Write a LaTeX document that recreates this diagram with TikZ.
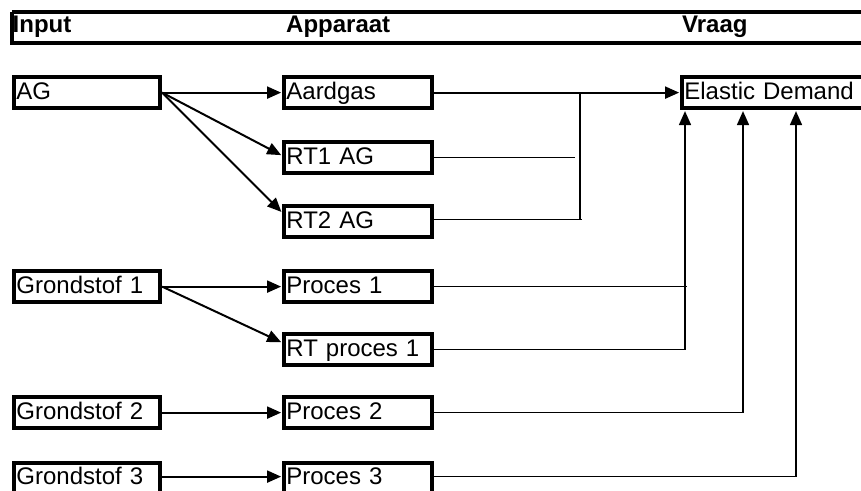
\documentclass[tikz,border=0pt]{standalone}
\usepackage{fontspec}
\setmainfont{Liberation Sans}
\usetikzlibrary{arrows.meta,shadows}
\begin{document}
\begin{tikzpicture}[x=1pt,y=-1pt,
  box/.style={draw, fill=white, line width=4.2pt, rectangle, anchor=north west,
    inner xsep=2.2pt, inner ysep=0pt, minimum height=30.8pt,
    text height=17pt, text depth=4pt, align=left,
    font=\fontsize{24}{24}\selectfont,
    drop shadow={shadow xshift=1.3pt, shadow yshift=-1.3pt, fill=black, opacity=1}},
  inbox/.style={box, text width=141.4pt},
  appbox/.style={box, text width=143.4pt},
  head/.style={anchor=base west, inner sep=0pt,
    font=\bfseries\fontsize{24}{24}\selectfont},
  link/.style={line width=1.6pt},
  arr/.style={line width=2pt, -{Triangle[length=14pt,width=12pt]}, shorten >=1pt},
  arrv/.style={line width=1.7pt, -{Triangle[length=14pt,width=12pt]}, shorten >=0pt}
]
\useasboundingbox (0,0) rectangle (861,490);
\fill[white] (0,0) rectangle (861,490);
\clip (0,0) rectangle (861,490);

% column header bar
\draw[line width=3.6pt] (11.8,11.8) -- (900,11.8);
\draw[line width=3.6pt] (11.8,11.8) -- (11.8,43);
\draw[line width=4.6pt] (10,43) -- (900,43);
\node[head] (hInput) at (12.5,32) {Input};
\node[head] (hApp) at (286,32) {Apparaat};
\node[head] (hVraag) at (682,32) {Vraag};

% input column
\node[inbox] (ag)  at (12.1,75.1)  {AG};
\node[inbox] (gs1) at (12.1,269.1) {Grondstof 1};
\node[inbox] (gs2) at (12.1,395.1) {Grondstof 2};
\node[inbox] (gs3) at (12.1,460.6) {Grondstof 3};

% apparaat column
\node[appbox] (aardgas) at (282.1,75.1)  {Aardgas};
\node[appbox] (rt1)     at (282.1,140.1) {RT1 AG};
\node[appbox] (rt2)     at (282.1,204.1) {RT2 AG};
\node[appbox] (proc1)   at (282.1,269.1) {Proces 1};
\node[appbox] (rtp1)    at (282.1,332.1) {RT proces 1};
\node[appbox] (proc2)   at (282.1,395.1) {Proces 2};
\node[appbox] (proc3)   at (282.1,460.6) {Proces 3};

% demand
\node[box, text width=250pt] (ed) at (680.1,75.1) {Elastic Demand};

% input -> apparaat
\draw[arr] (ag.east) -- (aardgas.west);
\draw[arr] (ag.east) -- ([yshift=2pt]rt1.west);
\draw[arr] (ag.east) -- ([yshift=9pt]rt2.west);
\draw[arr] (gs1.east) -- (proc1.west);
\draw[arr] (gs1.east) -- ([yshift=7pt]rtp1.west);
\draw[arr] (gs2.east) -- (proc2.west);
\draw[arr] ([yshift=1.5pt]gs3.east) -- ([yshift=1.5pt]proc3.west);

% collector lines
\coordinate (busA) at (580,0);
\coordinate (busB) at (685,0);
\coordinate (busC) at (743,0);
\coordinate (busD) at (796,0);

\draw[arr] (aardgas.east) -- (ed.west);
\draw[link] (busA |- aardgas.east) -- ([yshift=2pt]busA |- rt2.east);
\draw[link] (rt1.east) -- ([xshift=-5pt]busA |- rt1.east);
\draw[link] ([yshift=2pt]rt2.east) -- ([xshift=2pt,yshift=2pt]busA |- rt2.east);

\draw[link] (proc1.east) -- ([xshift=2pt]busB |- proc1.east);
\draw[arrv] (rtp1.east) -| ([yshift=-1pt]busB |- ed.south);
\draw[arrv] (proc2.east) -| ([yshift=-1pt]busC |- ed.south);
\draw[arrv] ([yshift=1.5pt]proc3.east) -| ([yshift=-1pt]busD |- ed.south);
\end{tikzpicture}
\end{document}
